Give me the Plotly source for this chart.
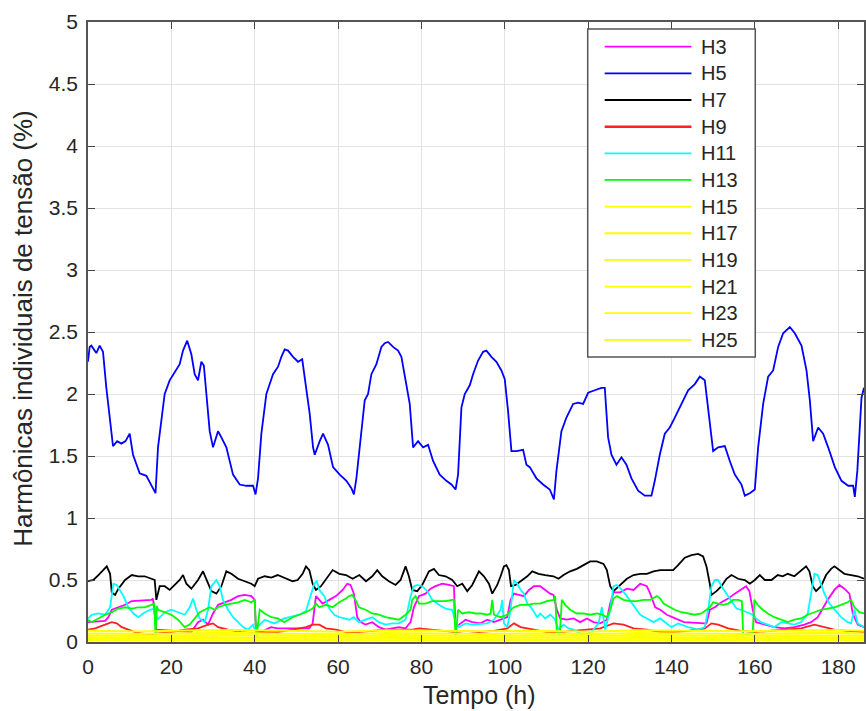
import plotly.graph_objects as go

# ---------------- data ----------------
h5_t = [0, 0.4, 0.8, 1.6, 2.0, 2.8, 3.6, 4.4, 5.2, 6.0, 7.0, 8.0, 9.0, 10.0, 10.8, 12.4, 14.0, 15.2, 16.2,
        16.8, 18.4, 19.6, 21.2, 22.0, 22.8, 23.8, 24.8, 25.6, 26.4, 27.2, 27.8, 28.4, 29.2, 30.0, 31.2, 32.0,
        33.2, 34.8, 36.4, 38.0, 39.6, 40.2, 40.8, 41.6, 42.8, 43.6, 44.4, 45.6, 46.4, 47.2, 48.0, 49.2, 50.4,
        51.4, 52.4, 53.2, 54.0, 54.4, 55.6, 56.4, 57.6, 58.8, 60.4, 62.0, 63.2, 63.8, 64.4, 65.6, 66.4, 67.2,
        68.0, 69.2, 70.4, 71.2, 72.0, 73.2, 74.4, 75.2, 76.0, 77.2, 78.0, 79.2, 80.4, 81.6, 82.8, 84.4, 86.0,
        87.2, 88.2, 88.8, 89.6, 90.4, 91.6, 92.4, 93.6, 94.8, 95.6, 96.8, 98.0, 99.2, 100.0, 100.8, 101.6,
        102.8, 104.4, 105.2, 106.0, 107.6, 109.2, 110.8, 111.8, 112.4, 113.6, 114.8, 116.4, 117.6, 118.8,
        120.0, 121.6, 123.2, 124.0, 124.8, 125.6, 126.8, 128.0, 129.2, 130.4, 132.0, 133.6, 135.2, 136.0,
        137.2, 138.4, 139.6, 140.8, 142.4, 144.0, 145.6, 146.8, 148.0, 148.8, 150.0, 151.2, 152.8, 154.0,
        155.2, 156.8, 157.6, 158.8, 160.0, 160.8, 162.0, 163.2, 164.4, 165.6, 166.8, 168.4, 169.6, 171.2,
        172.4, 173.2, 174.0, 175.2, 176.4, 177.6, 179.2, 180.8, 182.4, 183.6, 184.0, 184.6, 185.6, 186.2]
h5_v = [2.26, 2.38, 2.39, 2.35, 2.33, 2.39, 2.34, 2.05, 1.81, 1.58, 1.62, 1.60, 1.62, 1.68, 1.51, 1.36, 1.34, 1.27, 1.20,
        1.57, 2.00, 2.11, 2.19, 2.24, 2.35, 2.43, 2.32, 2.16, 2.11, 2.26, 2.23, 1.97, 1.70, 1.57, 1.70, 1.65,
        1.57, 1.35, 1.27, 1.26, 1.26, 1.19, 1.32, 1.68, 2.00, 2.08, 2.16, 2.22, 2.30, 2.36, 2.35, 2.30, 2.26,
        2.28, 2.05, 1.84, 1.57, 1.51, 1.62, 1.68, 1.59, 1.41, 1.35, 1.30, 1.24, 1.19, 1.32, 1.68, 1.95, 2.00,
        2.16, 2.24, 2.38, 2.41, 2.42, 2.38, 2.35, 2.30, 2.14, 1.92, 1.57, 1.62, 1.57, 1.59, 1.46, 1.35, 1.30,
        1.27, 1.23, 1.35, 1.89, 2.00, 2.07, 2.16, 2.27, 2.34, 2.35, 2.30, 2.26, 2.19, 2.12, 1.86, 1.54,
        1.54, 1.55, 1.43, 1.41, 1.32, 1.27, 1.23, 1.15, 1.38, 1.70, 1.81, 1.92, 1.93, 1.92,
        2.01, 2.03, 2.05, 2.05, 1.65, 1.51, 1.43, 1.49, 1.43, 1.32, 1.22, 1.18, 1.18, 1.30,
        1.51, 1.68, 1.73, 1.81, 1.92, 2.03, 2.08, 2.14, 2.11, 1.86, 1.54, 1.57, 1.58, 1.46,
        1.35, 1.27, 1.18, 1.20, 1.23, 1.57, 1.92, 2.14, 2.19, 2.38, 2.49, 2.54, 2.49, 2.39,
        2.19, 1.95, 1.62, 1.73, 1.68, 1.57, 1.41, 1.30, 1.26, 1.26, 1.17, 1.38, 1.97, 2.05]

h7_t = [0, 1.3, 2.5, 3.7, 4.5, 5.3, 5.7, 6.5, 7.3, 8.9, 10.5, 12.0, 13.6, 15.2, 16.0, 16.4, 17.2, 18.4, 19.6, 20.8,
        22.0, 22.8, 23.6, 24.8, 26.4, 27.6, 28.4, 29.6, 30.8, 32.0, 33.2, 34.4, 36.0, 37.6, 39.2, 40.0, 40.8,
        42.4, 44.0, 45.5,
        47.5, 49.1, 50.3, 51.5, 52.3, 53.1, 53.9, 54.7, 55.9, 57.1, 58.7, 60.3, 61.9, 63.5, 65.1, 66.7, 68.2,
        69.4, 70.6, 72.2, 73.8, 75.0, 76.2, 77.0, 77.8, 79.0, 80.2, 81.8, 83.0, 84.2, 85.8, 87.4, 88.6, 89.8,
        91.0, 92.2,
        93.8, 95.0, 96.2, 97.0, 98.2, 99.0, 99.8, 100.4, 101.0, 101.5, 102.6, 103.8, 105.4, 106.6, 108.1,
        109.7, 111.7, 112.9, 114.1, 115.7, 117.3, 118.9, 120.5, 122.1, 123.7, 124.5, 125.3, 126.1, 127.7,
        129.3, 130.9, 132.5, 134.1, 135.7, 137.3, 138.9,
        140.4, 141.6, 143.2, 144.8, 146.4, 147.6, 148.4, 149.2, 149.6, 150.8, 152.0, 153.2, 154.4, 156.0,
        157.6, 158.8, 160.0, 161.2, 162.4, 164.0, 165.5, 166.7, 167.9, 169.5, 171.1, 172.3, 173.1, 173.9,
        174.7, 175.9, 177.1, 178.3, 179.1, 180.3, 181.5, 183.1, 184.7, 186.2]
h7_v = [0.49, 0.50, 0.54, 0.58, 0.61, 0.55, 0.40, 0.38, 0.43, 0.50, 0.54, 0.53, 0.53, 0.51, 0.50, 0.34, 0.45, 0.45, 0.42, 0.46,
        0.50, 0.54, 0.47, 0.43, 0.50, 0.57, 0.50, 0.41, 0.39, 0.45, 0.57, 0.55, 0.51, 0.49, 0.47, 0.45, 0.51,
        0.53, 0.52, 0.54,
        0.51, 0.49, 0.50, 0.55, 0.61, 0.58, 0.47, 0.42, 0.45, 0.51, 0.58, 0.55, 0.54, 0.51, 0.54, 0.49, 0.53,
        0.58, 0.53, 0.49, 0.46, 0.50, 0.61, 0.53, 0.42, 0.41, 0.46, 0.57, 0.59, 0.54, 0.53, 0.50, 0.45, 0.47,
        0.41, 0.46,
        0.57, 0.53, 0.47, 0.39, 0.46, 0.53, 0.61, 0.62, 0.58, 0.45, 0.46, 0.49, 0.53, 0.57, 0.55,
        0.54, 0.53, 0.51, 0.54, 0.57, 0.59, 0.62, 0.65, 0.65, 0.63, 0.58, 0.45, 0.41, 0.46,
        0.51, 0.54, 0.55, 0.55, 0.57, 0.58, 0.58,
        0.58, 0.62, 0.68, 0.70, 0.71, 0.69, 0.61, 0.47, 0.38, 0.41, 0.45, 0.51, 0.54, 0.51,
        0.50, 0.47, 0.50, 0.54, 0.50, 0.50, 0.54, 0.53, 0.55, 0.53, 0.58, 0.61, 0.57, 0.45,
        0.41, 0.45, 0.54, 0.59, 0.61, 0.58, 0.55, 0.54, 0.53, 0.51]

h3_t = [0, 4.1, 4.9, 5.7, 8.9, 10.5, 15.2, 15.6, 16.4, 24.8, 25.6, 26.4, 27.6, 28.8, 30.0, 31.2, 32.8, 34.4,
        36.0, 37.6, 39.2, 40.0, 40.3, 41.5, 43.9, 45.5,
        53.1, 53.9, 54.7, 55.5, 56.3, 57.9, 59.5, 61.1, 62.2, 63.0, 63.8, 64.6, 65.4, 66.6, 68.2, 69.8, 71.4,
        73.0, 74.6, 76.2, 77.4, 78.2, 79.4, 81.0, 82.2, 83.4, 85.0, 86.6, 87.8, 88.2, 89.4, 90.6, 92.2,
        94.2, 95.8, 97.4, 99.0, 100.6, 101.4, 102.2, 103.4, 104.6, 105.8, 107.0, 108.5, 109.7, 110.9, 111.7,
        112.5, 113.3, 114.9, 116.5, 118.1, 119.7, 121.3, 122.9, 124.5, 125.3, 126.1, 127.7, 129.3, 130.9,
        132.5, 134.1, 134.9, 136.1, 137.3, 138.9,
        143.0, 148.0, 148.4, 149.2, 150.4, 152.0, 153.6, 155.2, 156.7, 157.9, 158.7, 159.5, 160.3, 162.3,
        164.7, 167.1, 169.5, 171.9, 173.5, 175.1, 176.3, 177.5, 179.1, 180.3, 181.5, 182.7, 183.5, 184.7, 186.2]
h3_v = [0.16, 0.17, 0.20, 0.26, 0.30, 0.33, 0.34, 0.35, 0.10, 0.08, 0.12, 0.16, 0.18, 0.14, 0.23, 0.30, 0.32, 0.34,
        0.37, 0.38, 0.37, 0.34, 0.10, 0.08, 0.12, 0.11,
        0.11, 0.15, 0.37, 0.34, 0.31, 0.34, 0.37, 0.42, 0.47, 0.46, 0.39, 0.20, 0.16, 0.14, 0.16, 0.12, 0.10,
        0.11, 0.12, 0.11, 0.16, 0.28, 0.37, 0.39, 0.43, 0.45, 0.47, 0.46, 0.45, 0.12, 0.15, 0.18, 0.16,
        0.15, 0.18, 0.16, 0.18, 0.20, 0.34, 0.39, 0.38, 0.37, 0.42, 0.45, 0.45, 0.42, 0.39, 0.38,
        0.26, 0.19, 0.18, 0.19, 0.16, 0.19, 0.16, 0.15, 0.18, 0.31, 0.40, 0.40, 0.43, 0.42,
        0.47, 0.45, 0.39, 0.28, 0.26, 0.22,
        0.16, 0.15, 0.15, 0.26, 0.28, 0.32, 0.35, 0.39, 0.42, 0.45, 0.41, 0.26, 0.16, 0.14,
        0.12, 0.11, 0.12, 0.14, 0.16, 0.20, 0.27, 0.34, 0.42, 0.46, 0.43, 0.39, 0.23, 0.14, 0.12]

h11_t = [0, 0.9, 2.5, 4.1, 5.3, 6.1, 6.9, 7.7, 8.5, 9.7, 10.9, 12.1, 13.2, 14.8, 16.0, 16.7, 17.2, 18.4, 20.0,
         21.6, 23.2, 24.4, 25.2, 26.0, 26.8, 28.0, 28.8, 29.6, 30.8, 31.6, 32.4, 33.6, 34.8, 36.0, 37.2, 38.4,
         39.6, 40.0, 42.4, 44.7, 47.1,
         48.3, 50.7, 52.3, 53.5, 54.3, 54.9, 55.5, 56.7, 57.9, 59.1, 60.3, 61.5, 62.7, 63.8, 65.0, 66.6, 68.2,
         69.8, 71.4, 73.0, 74.6, 76.2, 77.4, 78.2, 79.0, 80.2, 81.4, 82.6, 84.2, 85.8, 87.4, 88.2, 89.0, 90.6, 92.2,
         95.8, 97.4, 99.0, 99.4, 99.8, 100.6, 101.4, 102.2, 103.0, 103.8, 104.6, 105.4, 106.5, 107.8, 108.5,
         109.7, 110.9, 112.1, 112.9, 114.1, 115.3, 116.5, 118.1, 119.7, 121.3, 122.5, 123.3, 124.1, 125.3,
         126.1, 126.9, 128.1, 129.3, 130.9, 132.5, 134.1, 135.7, 137.3, 138.9,
         140.0, 141.6, 144.0, 146.4, 148.0, 148.8, 149.6, 150.4, 151.2, 152.0, 153.2, 154.4, 155.6, 156.7,
         158.3, 159.5, 160.3, 161.5, 163.1, 164.7, 166.3, 167.9, 169.5, 171.1, 172.7, 173.5, 174.3, 175.1,
         175.9, 176.7, 177.9, 179.1, 180.7, 182.3, 183.1, 183.9, 184.7, 186.2]
h11_v = [0.19, 0.22, 0.23, 0.22, 0.28, 0.47, 0.46, 0.42, 0.37, 0.28, 0.23, 0.20, 0.23, 0.26, 0.27, 0.18, 0.20, 0.24, 0.26,
         0.24, 0.22, 0.28, 0.35, 0.26, 0.19, 0.16, 0.26, 0.45, 0.50, 0.45, 0.34, 0.26, 0.20, 0.16, 0.12, 0.10,
         0.14, 0.10, 0.18, 0.15, 0.19,
         0.20, 0.22, 0.25, 0.39, 0.47, 0.49, 0.42, 0.37, 0.27, 0.22, 0.20, 0.19, 0.18, 0.20, 0.16, 0.18, 0.20,
         0.16, 0.14, 0.15, 0.15, 0.18, 0.37, 0.45, 0.46, 0.45, 0.41, 0.34, 0.30, 0.27, 0.26, 0.16, 0.12, 0.15, 0.14,
         0.15, 0.18, 0.26, 0.34, 0.15, 0.12, 0.26, 0.50, 0.47, 0.42, 0.39, 0.31, 0.27, 0.20, 0.23,
         0.19, 0.22, 0.18, 0.10, 0.14, 0.11, 0.10, 0.07, 0.06, 0.10, 0.15, 0.28, 0.10, 0.26,
         0.45, 0.46, 0.42, 0.37, 0.30, 0.22, 0.19, 0.16, 0.19, 0.15,
         0.12, 0.15, 0.12, 0.10, 0.12, 0.26, 0.45, 0.50, 0.50, 0.45, 0.39, 0.33, 0.27, 0.26,
         0.24, 0.22, 0.19, 0.16, 0.14, 0.12, 0.16, 0.15, 0.14, 0.16, 0.23, 0.39, 0.55, 0.54,
         0.47, 0.39, 0.31, 0.26, 0.20, 0.16, 0.15, 0.26, 0.15, 0.12]

h13_t = [0, 0.9, 2.5, 4.1, 5.7, 7.3, 8.9, 10.5, 12.0, 13.6, 15.2, 15.9, 16.2, 16.5, 16.8, 18.4, 20.0, 21.6, 23.2,
         24.4, 25.6, 26.8, 28.0, 29.2, 30.4, 31.2, 32.8, 34.4, 36.0, 37.6, 39.2, 40.0, 40.4, 41.2, 42.4, 44.0,
         45.5, 47.1,
         49.1, 50.7, 52.3, 53.9, 54.7, 55.5, 57.1, 58.7, 60.3, 61.9, 62.6, 63.4, 64.2, 65.0, 66.6, 68.2, 69.8,
         71.4, 73.0, 74.6, 76.2, 77.4, 77.8, 78.6, 79.4, 81.0, 82.6, 84.2, 85.8, 87.4, 87.8, 88.2, 88.8, 89.8,
         91.4, 93.0,
         94.2, 95.8, 96.6, 97.0, 97.4, 99.0, 100.6, 101.4, 102.2, 103.8, 105.4, 107.0, 108.5, 110.1, 111.7,
         112.1, 112.5, 113.2, 113.7, 114.5, 115.7, 117.3, 118.9, 120.5, 122.1, 123.3, 124.5, 125.3, 126.1,
         126.9, 128.5, 130.1, 131.7, 133.3, 134.9, 136.5, 137.3, 138.1, 139.6,
         140.8, 142.4, 144.0, 145.6, 147.2, 148.4, 149.2, 150.0, 151.2, 152.4, 153.6, 154.8, 156.0, 156.9,
         157.2, 157.9, 158.7, 159.5, 159.9, 160.7, 161.9, 163.1, 164.7, 166.3, 167.9, 169.5, 171.1, 172.7,
         174.3, 175.9, 177.5, 179.1, 180.7, 182.3, 183.1, 183.9, 185.1, 186.2]
h13_v = [0.18, 0.16, 0.19, 0.22, 0.24, 0.27, 0.28, 0.27, 0.28, 0.28, 0.30, 0.31, 0.03, 0.29, 0.26, 0.24, 0.22, 0.18, 0.12,
         0.14, 0.19, 0.24, 0.26, 0.28, 0.26, 0.28, 0.30, 0.31, 0.32, 0.34, 0.32, 0.34, 0.03, 0.26, 0.23, 0.20,
         0.19, 0.16,
         0.20, 0.22, 0.24, 0.27, 0.31, 0.28, 0.30, 0.28, 0.32, 0.35, 0.37, 0.38, 0.34, 0.28, 0.26, 0.23, 0.22,
         0.20, 0.19, 0.18, 0.22, 0.26, 0.34, 0.37, 0.31, 0.31, 0.33, 0.33, 0.33, 0.34, 0.34, 0.03, 0.26, 0.23,
         0.24, 0.23,
         0.23, 0.22, 0.23, 0.34, 0.22, 0.20, 0.22, 0.26, 0.28, 0.30, 0.30, 0.31, 0.31, 0.33, 0.34,
         0.37, 0.08, 0.06, 0.34, 0.30, 0.26, 0.23, 0.23, 0.22, 0.23, 0.22, 0.20, 0.26, 0.35,
         0.37, 0.34, 0.33, 0.33, 0.34, 0.34, 0.37, 0.35, 0.31, 0.28,
         0.26, 0.24, 0.23, 0.22, 0.23, 0.26, 0.28, 0.32, 0.31, 0.30, 0.31, 0.34, 0.34, 0.33,
         0.06, 0.06, 0.06, 0.08, 0.34, 0.30, 0.26, 0.23, 0.20, 0.18, 0.16, 0.18, 0.19, 0.22,
         0.24, 0.26, 0.27, 0.28, 0.30, 0.32, 0.34, 0.28, 0.24, 0.23]

h9_t = [0, 1.7, 4.1, 5.7, 6.9, 8.1, 9.7, 11.3, 12.8, 15.2, 16.8, 20.0, 23.2, 26.4, 28.8, 30.0, 31.2, 33.6, 36.8,
        40.0, 42.4, 45.5,
        49.1, 52.3, 53.9, 55.5, 57.1, 59.5, 61.9, 65.0, 68.2, 71.4, 74.6, 77.8, 79.4, 82.6, 85.8, 88.2, 90.6, 93.8,
        97.4, 100.6, 102.2, 103.8, 107.0, 110.1, 113.3, 116.5, 119.7, 122.9, 126.1, 128.5, 130.9, 134.1, 137.3, 140.4,
        144.0, 148.0, 149.6, 151.2, 153.6, 156.7, 159.9, 163.1, 166.3, 171.1, 174.3, 176.7, 179.1, 182.3, 186.2]
h9_v = [0.10, 0.11, 0.14, 0.16, 0.15, 0.12, 0.10, 0.08, 0.07, 0.06, 0.07, 0.08, 0.10, 0.11, 0.14, 0.15, 0.12, 0.10, 0.08,
        0.07, 0.08, 0.08,
        0.10, 0.12, 0.14, 0.14, 0.11, 0.10, 0.08, 0.08, 0.09, 0.10, 0.10, 0.10, 0.11, 0.10, 0.09, 0.08, 0.09, 0.08,
        0.09, 0.11, 0.15, 0.12, 0.10, 0.08, 0.08, 0.09, 0.10, 0.11, 0.15, 0.14, 0.11, 0.10, 0.08, 0.08,
        0.09, 0.11, 0.15, 0.14, 0.11, 0.09, 0.08, 0.09, 0.10, 0.11, 0.14, 0.12, 0.10, 0.09, 0.08]

yel_t = [0, 12, 24, 36, 48, 60, 72, 84, 96, 108, 120, 132, 144, 156, 168, 180, 186.2]
h15_v = [0.090, 0.085, 0.092, 0.096, 0.090, 0.082, 0.094, 0.090, 0.086, 0.091, 0.083, 0.095, 0.090, 0.086, 0.092, 0.096, 0.090]
h17_v = [0.068, 0.064, 0.071, 0.074, 0.066, 0.062, 0.072, 0.069, 0.065, 0.070, 0.063, 0.073, 0.068, 0.064, 0.071, 0.074, 0.068]
h19_v = [0.052, 0.049, 0.055, 0.057, 0.050, 0.047, 0.056, 0.052, 0.049, 0.054, 0.048, 0.056, 0.052, 0.049, 0.055, 0.057, 0.052]
h21_v = [0.038, 0.035, 0.040, 0.041, 0.036, 0.034, 0.040, 0.038, 0.035, 0.039, 0.034, 0.041, 0.038, 0.035, 0.040, 0.041, 0.038]
h23_v = [0.024, 0.022, 0.026, 0.027, 0.023, 0.021, 0.026, 0.024, 0.022, 0.025, 0.021, 0.027, 0.024, 0.022, 0.026, 0.027, 0.024]
h25_v = [0.012, 0.011, 0.013, 0.014, 0.012, 0.010, 0.013, 0.012, 0.011, 0.013, 0.010, 0.014, 0.012, 0.011, 0.013, 0.014, 0.012]

names = ["H3", "H5", "H7", "H9", "H11", "H13", "H15", "H17", "H19", "H21", "H23", "H25"]
xs = [h3_t, h5_t, h7_t, h9_t, h11_t, h13_t, yel_t, yel_t, yel_t, yel_t, yel_t, yel_t]
ys = [h3_v, h5_v, h7_v, h9_v, h11_v, h13_v, h15_v, h17_v, h19_v, h21_v, h23_v, h25_v]
colors = ["#FF00FF", "#0000FF", "#000000", "#FF2020", "#00FFFF", "#00FF00",
          "#FFFF00", "#FFFF00", "#FFFF00", "#FFFF00", "#FFFF00", "#FFFF00"]
widths = [1.8, 1.8, 1.8, 1.8, 1.8, 1.8, 2, 2, 2, 2, 2, 2]

x_ticks = [0, 20, 40, 60, 80, 100, 120, 140, 160, 180]
y_ticks = [0, 0.5, 1, 1.5, 2, 2.5, 3, 3.5, 4, 4.5, 5]
y_labels = ["0", "0.5", "1", "1.5", "2", "2.5", "3", "3.5", "4", "4.5", "5"]

# ---------------- figure ----------------
W, H = 866, 711
L, R, T, B = 88, 0, 22, 69
fig = go.Figure()
for n, x, y, c, w in zip(names, xs, ys, colors, widths):
    fig.add_trace(go.Scatter(x=x, y=y, mode="lines", name=n,
                             line=dict(color=c, width=w), showlegend=False))

txt = "#262626"
font = "Liberation Sans, Arial, Helvetica, sans-serif"
axis_common = dict(showline=True, linecolor="#555555", linewidth=1.5, mirror="ticks",
                   ticks="inside", ticklen=7, tickwidth=1, tickcolor="#444444",
                   showgrid=True, gridcolor="#e3e3e3", gridwidth=1, zeroline=False,
                   tickfont=dict(family=font, size=21, color=txt))
fig.update_xaxes(range=[0, 186.2], tickvals=x_ticks, ticklabelstandoff=5, **axis_common)
fig.update_yaxes(range=[0, 5], tickvals=y_ticks, ticktext=y_labels, ticklabelstandoff=4, **axis_common)

pw, ph = W - L - R, H - T - B
def px(xp):
    return (xp - L) / pw
def py(yp):
    return (H - B - yp) / ph

shapes = [dict(type="rect", xref="paper", yref="paper", x0=px(589), x1=px(757), y0=py(357), y1=py(29),
               fillcolor="white", line=dict(color="#555555", width=1.5), layer="above")]
annotations = []
for i, (n, c) in enumerate(zip(names, colors)):
    yy = 46.7 + 26.65 * i
    shapes.append(dict(type="line", xref="paper", yref="paper", x0=px(606), x1=px(693), y0=py(yy), y1=py(yy),
                       line=dict(color=c, width=2.5 if n == "H9" else 1.8), layer="above"))
    annotations.append(dict(xref="paper", yref="paper", x=px(701), y=py(yy), text=n, showarrow=False,
                            xanchor="left", yanchor="middle", font=dict(family=font, size=20, color=txt)))

annotations.append(dict(xref="paper", yref="paper", x=px(481), y=py(695), text="Tempo (h)", showarrow=False,
                        xanchor="center", yanchor="middle", font=dict(family=font, size=25, color=txt)))
annotations.append(dict(xref="paper", yref="paper", x=px(22.5), y=py(329),
                        text="Harmônicas individuais de tensão (%)", showarrow=False, textangle=-90,
                        xanchor="center", yanchor="middle", font=dict(family=font, size=26, color=txt)))

fig.update_layout(width=W, height=H, margin=dict(l=L, r=R, t=T, b=B, pad=0),
                  paper_bgcolor="white", plot_bgcolor="white",
                  shapes=shapes, annotations=annotations, showlegend=False)

fig.write_html("out.html", include_plotlyjs=True, full_html=True,
               config={"displayModeBar": False})
